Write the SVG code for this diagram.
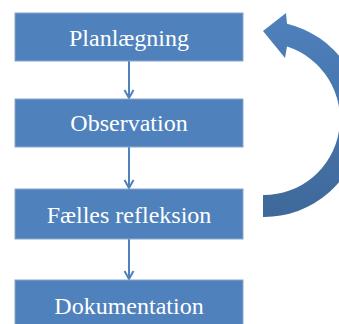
<svg xmlns="http://www.w3.org/2000/svg" width="339" height="324" viewBox="0 0 339 324">
<style>
.box{fill:#4f81bd;stroke:#8aa6cc;stroke-width:1}
.lbl{font-family:"Liberation Serif","Times New Roman",serif;font-size:24px;fill:#ffffff;text-anchor:middle}
.conn{stroke:#4f81bd;stroke-width:2;fill:none}
</style>
<defs>
<marker id="ah" markerUnits="userSpaceOnUse" markerWidth="12" markerHeight="12" viewBox="0 0 12 12" refX="10" refY="6" orient="auto">
<path d="M2,1.5 L10,6 L2,10.5" fill="none" stroke="#4f81bd" stroke-width="2"/>
</marker>
<linearGradient id="cg" gradientUnits="userSpaceOnUse" x1="0" y1="13" x2="0" y2="217">
<stop offset="0" stop-color="#4f81bd"/>
<stop offset="1" stop-color="#3e6899"/>
</linearGradient>
</defs>
<rect width="339" height="324" fill="#ffffff"/>
<g id="connectors">
<path class="conn" d="M129,61 L129,98" marker-end="url(#ah)"/>
<path class="conn" d="M129,147 L129,188" marker-end="url(#ah)"/>
<path class="conn" d="M129,239 L129,279" marker-end="url(#ah)"/>
<path id="cycle" d="M263,31 L286,13 L287,23.7 A98,98 0 0 1 263,217 L263,195 A76,76 0 0 0 287,46.6 L285,58 Z" fill="url(#cg)"/>
</g>
<g id="planlaegning">
<rect class="box" x="15" y="13" width="228" height="48"/>
<text class="lbl" x="129" y="45.7">Planlægning</text>
</g>
<g id="observation">
<rect class="box" x="15" y="99" width="228" height="48"/>
<text class="lbl" x="129" y="131">Observation</text>
</g>
<g id="faelles-refleksion">
<rect class="box" x="15" y="189" width="228" height="50"/>
<text class="lbl" x="129" y="222.5">Fælles refleksion</text>
</g>
<g id="dokumentation">
<rect class="box" x="15" y="280" width="228" height="50"/>
<text class="lbl" x="129" y="313.5">Dokumentation</text>
</g>
</svg>
